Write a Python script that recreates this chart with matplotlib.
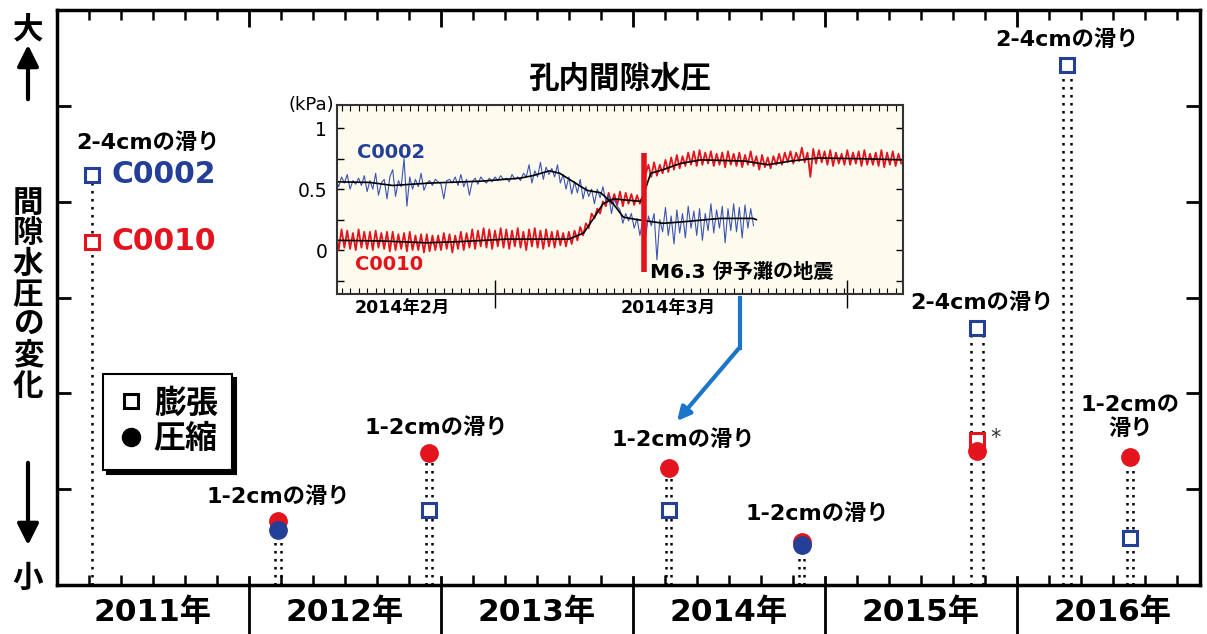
import numpy as np
import matplotlib
matplotlib.use('Agg')
import matplotlib.pyplot as plt
from matplotlib.lines import Line2D
from matplotlib import transforms
from matplotlib.ticker import MultipleLocator, FixedLocator

plt.rcParams['font.family'] = ['DejaVu Sans', 'Noto Sans CJK JP']

# ---- 主図のデータ ----
years = [2011, 2012, 2013, 2014, 2015, 2016]
ev_x = [2011.18, 2012.15, 2012.94, 2014.185, 2014.88, 2015.79, 2016.26, 2016.59]
c0002_y = [4.28, 0.57, 0.78, 0.78, 0.42, 2.68, 5.43, 0.49]
c0002_kind = ['膨張', '圧縮', '膨張', '膨張', '圧縮', '膨張', '膨張', '膨張']
c0010_y = [3.58, 0.67, 1.38, 1.22, 0.45, 1.40, None, 1.34]
c0010_kind = ['膨張', '圧縮', '圧縮', '圧縮', '圧縮', '圧縮', None, '圧縮']
c0010_alt_x = 2015.79   # * 付きの膨張
c0010_alt_y = 1.51
slip_text = ['2-4cmの滑り', '1-2cmの滑り', '1-2cmの滑り', '1-2cmの滑り',
             '1-2cmの滑り', '2-4cmの滑り', '2-4cmの滑り', '1-2cmの\n滑り']

# ---- 孔内間隙水圧 (2014年3月1日 = 0日) ----
quake_day = 13.1
quake_bar = [-0.18, 0.80]
red_vals = [
    .15, .00, .17, .02, .16, .01, .14, .00, .17, .02, .15, .01, .15, .00, .16, .02,
    .14, .01, .15, -.01, .15, .00, .13, .01, .14, -.01, .15, .00, .12, .00, .13, -.02,
    .13, -.01, .12, .00, .12, .00, .14, .01, .13, -.02, .12, .01, .15, .00, .14, .02,
    .17, .01, .16, .03, .18, .02, .17, .01, .16, .03, .18, .02, .17, .01, .16, .03,
    .18, .02, .15, .00, .17, .03, .18, .02, .16, .01, .17, .03, .15, .02, .16, .04,
    .14, .03, .15, .05, .16, .08, .19, .12, .22, .18, .30, .26, .34, .30, .40, .36,
    .47, .38, .46, .37, .48, .36, .47, .38, .46, .37, .45, .38, .44, .62, .70, .60,
    .72, .61, .70, .63, .74, .64, .76, .66, .78, .67, .77, .69, .80, .70, .81, .69,
    .82, .70, .80, .71, .81, .69, .79, .70, .80, .68, .81, .70, .79, .69, .80, .68,
    .78, .70, .81, .69, .77, .66, .78, .68, .76, .67, .77, .70, .79, .70, .80, .72,
    .81, .71, .80, .73, .84, .72, .80, .60, .83, .71, .82, .72, .81, .70, .82, .69,
    .80, .71, .79, .70, .82, .70, .80, .71, .81, .69, .82, .70, .79, .70, .80, .69,
    .82, .68, .80, .70, .81, .69, .79, .71]
blue_vals = [
    .58, .52, .60, .55, .62, .50, .57, .54, .59, .53, .61, .48, .57, .50, .63, .45,
    .55, .58, .42, .60, .66, .44, .57, .52, .75, .36, .60, .50, .58, .52, .63, .49,
    .55, .57, .53, .58, .56, .54, .42, .57, .58, .55, .60, .53, .62, .52, .58, .45,
    .56, .59, .54, .60, .57, .55, .59, .56, .60, .57, .61, .58, .59, .56, .62, .58,
    .60, .57, .63, .60, .70, .55, .65, .60, .72, .58, .68, .62, .67, .60, .70, .55,
    .62, .50, .60, .46, .56, .47, .58, .42, .52, .44, .50, .38, .50, .43, .52, .40,
    .45, .30, .42, .36, .33, .22, .30, .24, .30, .18, .26, .12, .24, .10, .28, .20,
    .30, -.08, .25, .15, .35, .12, .28, .05, .33, .14, .30, .10, .36, .18, .32, .12,
    .34, .08, .30, .16, .38, .14, .33, .18, .36, .06, .34, .16, .38, .15, .35, .10,
    .37, .18, .34, .20]
red_days = np.arange(-14, 36, 0.25)
blue_days = np.arange(-14, 23, 0.25)
red_smooth_d = [-14, -10, -6, -3, 1, 6.5, 7.8, 8.6, 9.5, 10.4, 12.8, 13.2, 13.7, 14.8,
                16.3, 18.1, 22, 24, 26, 28.4, 32, 36]
red_smooth_v = [.08, .075, .06, .07, .09, .09, .14, .25, .38, .42, .40, .49, .63, .66,
                .71, .74, .73, .70, .73, .755, .75, .74]
blue_smooth_d = [-14, -11, -9, -5.7, -1.3, 2.2, 3.3, 4.8, 5.7, 6.9, 8.1, 9.3, 10.4, 11.3,
                 12.5, 14.8, 16.3, 19.8, 22.7, 23.0]
blue_smooth_v = [.56, .555, .53, .55, .565, .59, .61, .65, .63, .56, .49, .47, .38, .27,
                 .25, .22, .23, .26, .26, .25]

BLUE = '#233f98'
RED = '#e3141e'
W, H = 1207, 634

fig = plt.figure(figsize=(W / 100, H / 100), dpi=100, facecolor='white')
ax = fig.add_axes([57 / W, (H - 585) / H, 1143 / W, 575 / H])
ax.set_xlim(2011, 2011 + 1143 / 192)
ax.set_ylim(0, 6)

# 軸まわり
for s in ax.spines.values():
    s.set_linewidth(2.5)
ax.set_yticks([1, 2, 3, 4, 5])
ax.tick_params(axis='y', direction='in', left=True, right=True, length=10, width=2,
               labelleft=False)
ax.xaxis.set_major_locator(FixedLocator(years[1:]))
ax.xaxis.set_minor_locator(MultipleLocator(1 / 6))
ax.tick_params(axis='x', which='major', direction='in', bottom=False, top=True,
               length=12, width=2, labelbottom=False)
ax.tick_params(axis='x', which='minor', direction='in', bottom=True, top=True,
               length=7, width=1.8)
for y in years[1:]:
    ax.plot([y, y], [-0.09, 0.014], color='k', lw=2, transform=ax.get_xaxis_transform(),
            clip_on=False)
for y in years:
    ax.text(y + 0.5, -0.047, f'{y}年', transform=ax.get_xaxis_transform(),
            ha='center', va='center', fontsize=22.5, fontweight='bold')

# 滑りイベント
gap_px = [0, 6, 6, 5, 5, 12, 8, 6]
lab_off = [(56, 32), (0, 24), (7, 25), (15, 28), (15, 28), (5, 26), (0, 25), (0, 40)]
for i, x in enumerate(ev_x):
    top = max(v for v in [c0002_y[i], c0010_y[i]] if v is not None)
    offs = [0] if gap_px[i] == 0 else [-gap_px[i] / 2, gap_px[i] / 2]
    for o in offs:
        tr = transforms.offset_copy(ax.transData, fig=fig, x=o, y=0, units='dots')
        ax.plot([x, x], [0, top], color='k', lw=1.8, ls=(0, (1, 2.2)), transform=tr,
                zorder=1)
    if c0010_y[i] is not None:
        if c0010_kind[i] == '膨張':
            ax.plot(x, c0010_y[i], 's', ms=10, mfc='white', mec=RED, mew=2.2, zorder=3)
        else:
            ax.plot(x, c0010_y[i], 'o', ms=12.5, color=RED, zorder=3)
    if c0002_kind[i] == '膨張':
        ax.plot(x, c0002_y[i], 's', ms=10, mfc='white', mec=BLUE, mew=2.2, zorder=4)
    else:
        ax.plot(x, c0002_y[i], 'o', ms=12.5, color=BLUE, zorder=4)
    ax.annotate(slip_text[i], (x, top), xytext=lab_off[i], textcoords='offset pixels',
                ha='center', va='center', fontsize=16, fontweight='bold',
                linespacing=1.2, zorder=5)

ax.plot(c0010_alt_x, c0010_alt_y, 's', ms=10, mfc='white', mec=RED, mew=2.2, zorder=2)
ax.annotate('*', (c0010_alt_x, c0010_alt_y), xytext=(19, 2), textcoords='offset pixels',
            ha='center', va='center', fontsize=15, color='#333333')
ax.annotate('C0002', (ev_x[0], c0002_y[0]), xytext=(20, 0), textcoords='offset pixels',
            ha='left', va='center', fontsize=21.5, fontweight='bold', color=BLUE)
ax.annotate('C0010', (ev_x[0], c0010_y[0]), xytext=(20, 0), textcoords='offset pixels',
            ha='left', va='center', fontsize=21.5, fontweight='bold', color=RED)

# 凡例
handles = [Line2D([], [], marker='s', ls='none', ms=10, mfc='white', mec='k', mew=2.2),
           Line2D([], [], marker='o', ls='none', ms=13, color='k')]
leg = ax.legend(handles, ['膨張', '圧縮'], loc='upper left', bbox_to_anchor=(0.040, 0.367),
                borderaxespad=0, fancybox=False, edgecolor='k', framealpha=1,
                shadow={'ox': 3, 'oy': -3, 'color': 'k', 'alpha': 1},
                prop={'size': 23, 'weight': 'bold'}, handlelength=0.9,
                handletextpad=0.25, borderpad=0.45, labelspacing=0.15)
leg.get_frame().set_linewidth(1.5)

# 左側の文字と矢印
fig.text(28 / W, 1 - 30 / H, '大', ha='center', va='center', fontsize=22, fontweight='bold')
fig.text(28 / W, 1 - 578 / H, '小', ha='center', va='center', fontsize=22, fontweight='bold')
fig.text(28 / W, 1 - 295 / H, '\n'.join('間隙水圧の変化'), ha='center', va='center',
         fontsize=22, fontweight='bold', linespacing=1.07)
ax.annotate('', xy=(28, H - 42), xytext=(28, H - 102), xycoords='figure pixels',
            textcoords='figure pixels',
            arrowprops=dict(arrowstyle='-|>', lw=3, color='k', mutation_scale=32))
ax.annotate('', xy=(28, H - 548), xytext=(28, H - 460), xycoords='figure pixels',
            textcoords='figure pixels',
            arrowprops=dict(arrowstyle='-|>', lw=3, color='k', mutation_scale=32))

# ---- 挿入図 ----
ax_in = fig.add_axes([337 / W, (H - 294) / H, 566 / W, 189 / H], facecolor='#fdfbee')
ax_in.set_xlim(-13.9, 35.9)
ax_in.set_ylim(-0.36, 1.19)
for s in ax_in.spines.values():
    s.set_linewidth(1.5)
    s.set_color('#333333')
ax_in.plot(red_days, red_vals, color=RED, lw=1.3)
ax_in.plot(blue_days, blue_vals, color='#3e55b0', lw=0.8)
ax_in.plot(red_smooth_d, red_smooth_v, color='k', lw=1.2)
ax_in.plot(blue_smooth_d, blue_smooth_v, color='k', lw=1.2)
ax_in.plot([quake_day, quake_day], quake_bar, color=RED, lw=4, solid_capstyle='butt')
ax_in.text(quake_day + 0.5, quake_bar[0], 'M6.3 伊予灘の地震', ha='left', va='center',
           fontsize=14.5, fontweight='bold')
ax_in.text(-12.1, 0.80, 'C0002', color=BLUE, fontsize=14, fontweight='bold', va='center')
ax_in.text(-12.3, -0.12, 'C0010', color=RED, fontsize=14, fontweight='bold', va='center')

ax_in.set_yticks([0, 0.5, 1])
ax_in.set_yticklabels(['0', '0.5', '1'])
ax_in.yaxis.set_minor_locator(FixedLocator([-0.25, 0.25, 0.75]))
ax_in.tick_params(axis='y', which='both', direction='in', left=True, right=True,
                  length=5, width=1, labelsize=13.5, pad=7)
ax_in.set_xticks([0, 31])
ax_in.set_xticklabels([])
ax_in.xaxis.set_minor_locator(MultipleLocator(0.75))
ax_in.tick_params(axis='x', which='major', direction='inout', length=20, width=1,
                  bottom=True, top=False)
ax_in.tick_params(axis='x', which='minor', direction='in', length=4, width=0.8,
                  bottom=True, top=True)
ax_in.text(-8.2, -0.075, '2014年2月', transform=ax_in.get_xaxis_transform(),
           ha='center', va='center', fontsize=12.5, fontweight='bold')
ax_in.text(15.2, -0.075, '2014年3月', transform=ax_in.get_xaxis_transform(),
           ha='center', va='center', fontsize=12.5, fontweight='bold')
ax_in.text(-0.005, 1.0, '(kPa)', transform=ax_in.transAxes, ha='right', va='center',
           fontsize=13)
ax_in.set_title('孔内間隙水圧', fontsize=22, fontweight='bold', pad=12)

# 青い矢印
ax.plot([740, 740], [H - 298, H - 348], color='#1b75c8', lw=3, transform=None,
        clip_on=False)
ax.annotate('', xy=(677, H - 421), xytext=(740, H - 347), xycoords='figure pixels',
            textcoords='figure pixels',
            arrowprops=dict(arrowstyle='-|>', lw=3, color='#1b75c8', mutation_scale=20,
                            shrinkA=0, shrinkB=0))

plt.savefig('out.png', dpi=100)
